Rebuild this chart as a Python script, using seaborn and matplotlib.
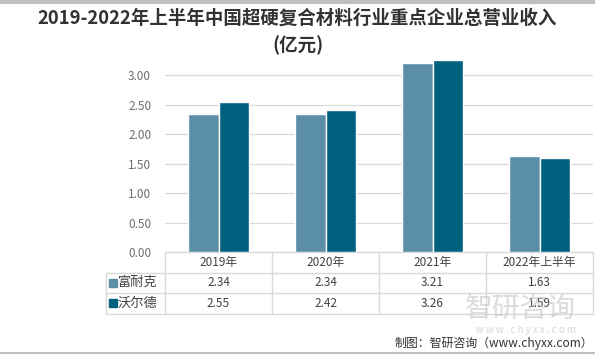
"""Bar chart with data table: revenue of key superhard composite firms, 2019-2022H1."""

import matplotlib
matplotlib.use("Agg")
import matplotlib.pyplot as plt
import matplotlib.transforms as mtransforms
import pandas as pd
import seaborn as sns

YEARS = ["2019年", "2020年", "2021年", "2022年上半年"]
COMPANIES = ["富耐克", "沃尔德"]
FUNAIKE = [2.34, 2.34, 3.21, 1.63]
WOERDE = [2.55, 2.42, 3.26, 1.59]
COLORS = ["#5B8FA8", "#00617F"]
YTICKS = [0.0, 0.5, 1.0, 1.5, 2.0, 2.5, 3.0]

TITLE = "2019-2022年上半年中国超硬复合材料行业重点企业总营业收入\n(亿元)"
SOURCE = "制图：智研咨询（www.chyxx.com）"


def main() -> None:
    sns.set_theme(style="white")
    plt.rcParams["font.family"] = ["Noto Sans CJK SC", "DejaVu Sans"]

    df = pd.DataFrame({
        "year": YEARS * 2,
        "company": [COMPANIES[0]] * 4 + [COMPANIES[1]] * 4,
        "value": FUNAIKE + WOERDE,
    })

    W, H = 595, 355
    fig = plt.figure(figsize=(W / 100, H / 100), dpi=100)
    left, right, bottom, top = 165, 593, 252, 46
    ax = fig.add_axes([left / W, 1 - bottom / H, (right - left) / W, (bottom - top) / H])

    sns.barplot(data=df, x="year", y="value", hue="company", palette=COLORS,
                width=0.57, saturation=1, legend=False, ax=ax, zorder=3)

    ax.set_xlim(-0.5, 3.5)
    ax.set_ylim(0, 3.5)
    ax.set_yticks(YTICKS)
    ax.set_yticklabels([f"{t:.2f}" for t in YTICKS], color="#6E6E6E", fontsize=8.5)
    ax.tick_params(axis="y", length=0, pad=10)
    ax.set_xticks([])
    ax.set_xlabel("")
    ax.set_ylabel("")
    ax.grid(axis="y", color="#D9D9D9", linewidth=0.9, zorder=0)
    for s in ax.spines.values():
        s.set_visible(False)

    # data table under the axis
    ax_h = bottom - top
    unit = (right - left) / 4  # px per category
    row = 20.5 / ax_h
    trans = mtransforms.blended_transform_factory(ax.transData, ax.transAxes)
    lc = "#D9D9D9"
    xlab = -0.5 - (165 - 106) / unit

    ax.plot([-0.5, 3.5], [0, 0], color=lc, lw=1, transform=trans, clip_on=False)
    for k in (1, 2, 3):
        ax.plot([xlab, 3.5], [-k * row] * 2, color=lc, lw=1, transform=trans, clip_on=False)
    for i in range(5):
        ax.plot([i - 0.5] * 2, [0, -3 * row], color=lc, lw=1, transform=trans, clip_on=False)
    ax.plot([xlab] * 2, [-row, -3 * row], color=lc, lw=1, transform=trans, clip_on=False)

    for i, y in enumerate(YEARS):
        ax.text(i, -0.5 * row, y, ha="center", va="center", fontsize=8.5,
                color="#404040", transform=trans, clip_on=False)
    for r, (name, vals, c) in enumerate(zip(COMPANIES, [FUNAIKE, WOERDE], COLORS)):
        yc = -(1.5 + r) * row
        ax.plot([xlab + 6.5 / unit], [yc], marker="s", ms=5.5, color=c,
                transform=trans, clip_on=False)
        ax.text(xlab + 12 / unit, yc, name, ha="left", va="center", fontsize=9.5,
                color="#404040", transform=trans, clip_on=False)
        for i, v in enumerate(vals):
            ax.text(i, yc, f"{v:.2f}", ha="center", va="center", fontsize=8.5,
                    color="#404040", transform=trans, clip_on=False)

    fig.text(0.5, 1 - 32 / H, TITLE, ha="center", va="center", fontsize=13.3,
             fontweight="bold", color="#333333", linespacing=1.45)

    # watermark (faint, sits under the last table row as in the source image)
    fig.text(576 / W, 1 - 309 / H, "智研咨询", ha="right", va="center", fontsize=20,
             color="#C4C4C4", alpha=0.6, zorder=0)
    fig.text(576 / W, 1 - 330 / H, "w w w . c h y x x . c o m", ha="right", va="center",
             fontsize=7, color="#CCCCCC", alpha=0.8, zorder=0)

    fig.text(593 / W, 1 - 343 / H, SOURCE, ha="right", va="center", fontsize=8.6,
             color="#333333")

    # frame lines at top and bottom
    fig.add_artist(plt.Line2D([0, 1], [1 - 1.5 / H] * 2, color="#BFBFBF", lw=3,
                              transform=fig.transFigure))
    fig.add_artist(plt.Line2D([0, 1], [1 - 353 / H] * 2, color="#BFBFBF", lw=1.5,
                              transform=fig.transFigure))

    fig.savefig("out.png", dpi=100)
    plt.close(fig)


if __name__ == "__main__":
    main()
